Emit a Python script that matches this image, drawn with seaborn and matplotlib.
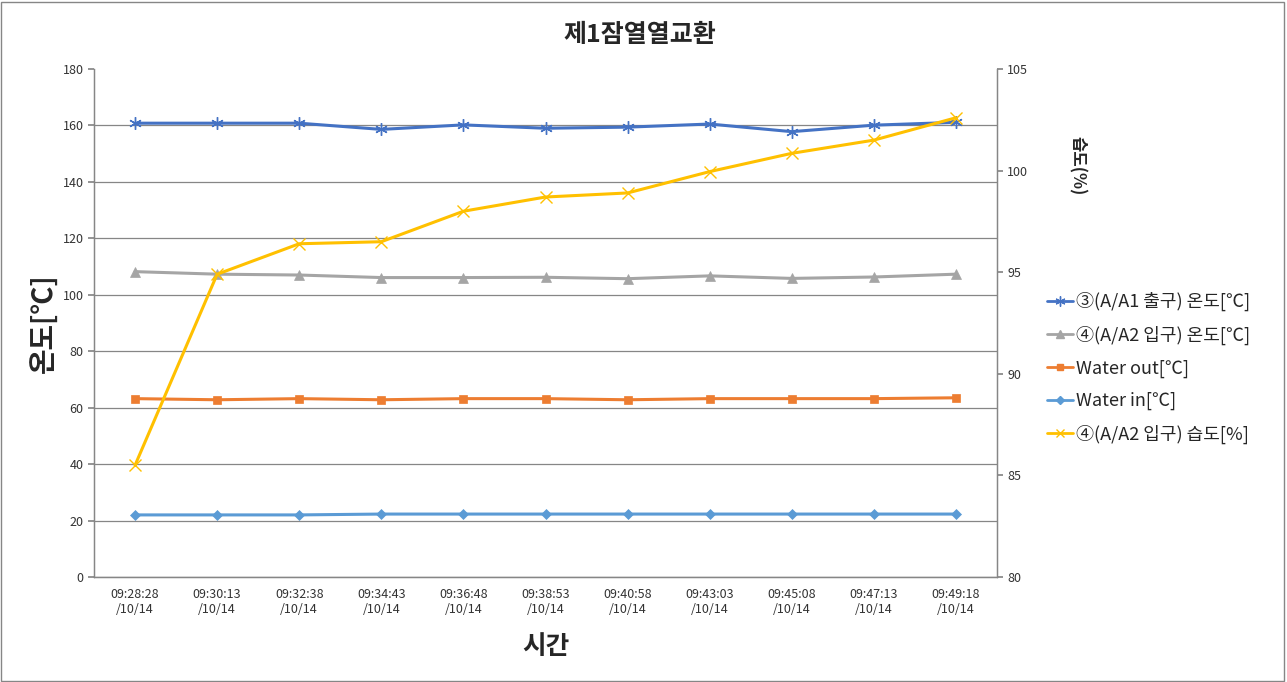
import matplotlib
matplotlib.use("Agg")
import matplotlib.pyplot as plt
import seaborn as sns
import numpy as np
import pandas as pd
from matplotlib.lines import Line2D
from matplotlib.patches import Rectangle

times = ["09:28:28\n/10/14", "09:30:13\n/10/14", "09:32:38\n/10/14", "09:34:43\n/10/14",
         "09:36:48\n/10/14", "09:38:53\n/10/14", "09:40:58\n/10/14", "09:43:03\n/10/14",
         "09:45:08\n/10/14", "09:47:13\n/10/14", "09:49:18\n/10/14"]
a1_out_temp = [160.8, 160.8, 160.8, 158.6, 160.2, 159.0, 159.4, 160.5, 157.8, 160.1, 161.1]
a2_in_temp = [108.2, 107.3, 107.0, 106.1, 106.1, 106.2, 105.7, 106.7, 105.8, 106.3, 107.3]
water_out = [63.2, 62.8, 63.2, 62.8, 63.2, 63.2, 62.8, 63.2, 63.2, 63.2, 63.5]
water_in = [22.0, 22.0, 22.0, 22.3, 22.3, 22.3, 22.3, 22.3, 22.3, 22.3, 22.3]
a2_in_hum = [85.5, 94.9, 96.4, 96.5, 98.0, 98.7, 98.9, 99.95, 100.85, 101.5, 102.6]

names = ["③(A/A1 출구) 온도[℃]", "④(A/A2 입구) 온도[℃]", "Water out[℃]", "Water in[℃]", "④(A/A2 입구) 습도[%]"]
colors = ["#4472C4", "#A5A5A5", "#ED7D31", "#5B9BD5", "#FFC000"]
markers = [(6, 2, 0), "^", "s", "D", "x"]
msizes = [9, 7, 6, 5, 8]

sns.set_theme(style="white")
plt.rcParams['font.family'] = ['Noto Sans CJK KR', 'DejaVu Sans']
plt.rcParams['axes.unicode_minus'] = False

fig = plt.figure(figsize=(12.87, 6.82), dpi=100)
ax = fig.add_axes([94/1287, 1-577/682, (997-94)/1287, (577-69)/682])
ax2 = ax.twinx()

xs = np.arange(len(times))
left_series = [a1_out_temp, a2_in_temp, water_out, water_in]
for vals, c, m, ms in zip(left_series, colors[:4], markers[:4], msizes[:4]):
    df = pd.DataFrame({"x": xs, "y": vals})
    sns.lineplot(data=df, x="x", y="y", ax=ax, color=c, marker=m, markersize=ms,
                 linewidth=2.2, markeredgecolor=c, markeredgewidth=1.0 if m == (6, 2, 0) else 0.5)
df = pd.DataFrame({"x": xs, "y": a2_in_hum})
sns.lineplot(data=df, x="x", y="y", ax=ax2, color=colors[4], marker="x", markersize=8,
             linewidth=2.2, markeredgecolor=colors[4], markeredgewidth=1.0)

ax.set_xlim(-0.5, len(times) - 0.5)
ax.set_ylim(0, 180)
ax.set_yticks(range(0, 181, 20))
ax2.set_ylim(80, 105)
ax2.set_yticks(range(80, 106, 5))
ax.set_xticks(xs)
ax.set_xticklabels(times, fontsize=9, color="#333333")
ax.tick_params(axis='y', labelsize=9, labelcolor="#333333", length=4, color="#868686", direction="out", left=True)
ax.tick_params(axis='x', length=0, pad=8)
ax2.tick_params(axis='y', labelsize=9, labelcolor="#333333", length=4, color="#868686", direction="out", right=True)

ax.grid(axis='y', color="#868686", linewidth=0.9)
ax.set_axisbelow(True)
for a in (ax, ax2):
    for s in a.spines.values():
        s.set_color("#868686")
        s.set_linewidth(0.9)
    a.spines['top'].set_visible(False)
ax.yaxis.get_gridlines()[-1].set_visible(False)

ax.set_xlabel("시간", fontsize=18.5, fontweight="bold", labelpad=12)
ax.set_ylabel("온도[℃]", fontsize=20, fontweight="bold", labelpad=3)
ax2.set_ylabel("")
fig.text(1077/1287, 1-166/682, "습도(%)", rotation=-90, fontsize=12, fontweight="bold",
         ha="center", va="center")
fig.text(640/1287, 1-35/682, "제1잠열열교환", fontsize=18, fontweight="bold", ha="center", va="center")

handles = [Line2D([0], [0], color=c, marker=m, markersize=ms * 0.8, linewidth=2, markeredgecolor=c)
           for c, m, ms in zip(colors, markers, msizes)]
fig.legend(handles, names, loc="center left", bbox_to_anchor=(1040/1287, 1-368/682),
           frameon=False, fontsize=13, handlelength=1.4, handletextpad=0.2, labelspacing=0.8,
           borderaxespad=0)

fig.patches.append(Rectangle((0.001, 0.002), 0.997, 0.995, transform=fig.transFigure,
                             fill=False, edgecolor="#868686", linewidth=1))

fig.savefig("out.png", dpi=100)
